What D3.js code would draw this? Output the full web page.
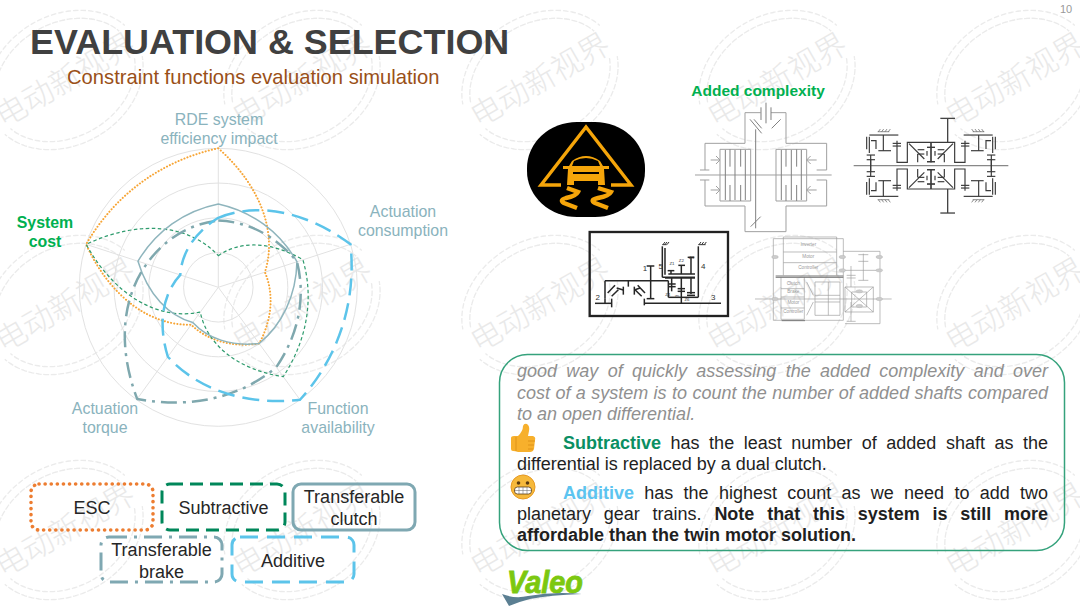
<!DOCTYPE html>
<html>
<head>
<meta charset="utf-8">
<script src="https://cdn.jsdelivr.net/npm/d3@7"></script>
<style>
html, body { margin: 0; padding: 0; background: #fff; }
svg { display: block; font-family: "Liberation Sans", Arial, sans-serif; }
</style>
</head>
<body>
<svg id="slide" width="1080" height="608"></svg>
<script>
// chart values
const axesNames = ["RDE system efficiency impact", "Actuation consumption", "Function availability", "Actuation torque", "System cost"];
const ringTicks = [1, 2, 3, 4];
const esc = [4, 1.41, 2, 1.33, 4];
const subtractive = [0.91, 2.56, 3.18, 0.88, 4];
const transferableClutch = [2.4, 2.38, 2, 1.25, 2.43];
const transferableBrake = [1.92, 2.38, 2.84, 3.97, 2.17];
const additive = [2, 4, 4, 2.47, 1.15];
const seriesNames = ["ESC", "Subtractive", "Transferable clutch", "Transferable brake", "Additive"];

const svg = d3.select("#slide");

// ---- watermark, repeated over the whole slide
const wmX = [65, 302, 540, 777, 1015];
const wmY = [80, 305, 530];
const wmLayer = svg.append("g");
const wmArc = d3.arc().innerRadius(1).outerRadius(1);
wmY.forEach(y => wmX.forEach(x => {
    const g = wmLayer.append("g").attr("transform", `translate(${x},${y}) rotate(-30)`);
    [[82, 65], [74, 57]].forEach(([a, b]) => {
        [[-1.3, 1.3], [1.85, 4.45]].forEach(([s, e]) => {
            g.append("path")
                .attr("d", wmArc({startAngle: s, endAngle: e}))
                .attr("transform", `scale(${a},${b})`)
                .attr("fill", "none").attr("stroke", "#ebebeb").attr("stroke-width", 1.3)
                .attr("vector-effect", "non-scaling-stroke")
                .attr("stroke-dasharray", "4 3.5");
        });
    });
    g.append("text").text("电动新视界")
        .attr("text-anchor", "middle").attr("y", 11)
        .style("font-family", '"Noto Sans CJK SC"').style("font-weight", 300)
        .style("font-size", "31px").attr("fill", "#e9e9e9");
}));

// ---- titles
function label(parent, str, x, y, size, color, opts) {
    opts = opts || {};
    return parent.append("text").text(str).attr("x", x).attr("y", y)
        .attr("text-anchor", opts.anchor || "start")
        .style("font-size", size + "px").style("font-weight", opts.weight || 400)
        .style("font-style", opts.style || "normal").attr("fill", color);
}
label(svg, "EVALUATION & SELECTION", 30, 54, 35.9, "#404040", {weight: 700});
label(svg, "Constraint functions evaluation simulation", 67, 84, 20.2, "#9a5018");
label(svg, "10", 1060, 13, 11, "#999");
label(svg, "Added complexity", 758, 96, 15.5, "#00b050", {weight: 700, anchor: "middle"});

// ---- radar
const cx = 218.3, cy = 287.3;
const r = d3.scaleLinear().domain([0, 4]).range([0, 139]);
const angle = d3.scaleLinear().domain([0, axesNames.length]).range([0, 2 * Math.PI]);
const polar = (a, v) => [cx + r(v) * Math.sin(a), cy - r(v) * Math.cos(a)];

const radar = svg.append("g");
radar.selectAll("circle").data(ringTicks).join("circle")
    .attr("cx", cx).attr("cy", cy).attr("r", d => r(d))
    .attr("fill", "none").attr("stroke", "#e2e2e2").attr("stroke-width", 1);
radar.selectAll("line").data(axesNames).join("line")
    .attr("x1", cx).attr("y1", cy)
    .attr("x2", (d, i) => polar(angle(i), 4)[0])
    .attr("y2", (d, i) => polar(angle(i), 4)[1])
    .attr("stroke", "#e2e2e2").attr("stroke-width", 1);

// segments bend along the polar grid, with a corner kept at every value
function radarPath(values) {
    const p = d3.path(), n = values.length, step = angle(1);
    p.moveTo(...polar(0, values[0]));
    values.forEach((v, i) => {
        const next = values[(i + 1) % n], a = angle(i);
        const c1 = polar(a + step / 3, v + (next - v) / 3);
        const c2 = polar(a + 2 * step / 3, v + 2 * (next - v) / 3);
        const end = polar(a + step, next);
        p.bezierCurveTo(c1[0], c1[1], c2[0], c2[1], end[0], end[1]);
    });
    p.closePath();
    return p.toString();
}
const seriesStyle = [
    {values: esc, color: "#f7a535", width: 2, dash: "0.1 3.1", line: "round"},
    {values: subtractive, color: "#2f9c6e", width: 1.2, dash: "3.5 2.5"},
    {values: transferableClutch, color: "#8fb5bd", width: 1.5, dash: null},
    {values: transferableBrake, color: "#7fa8ae", width: 2.5, dash: "16 6 3 6"},
    {values: additive, color: "#5cc4ea", width: 2.5, dash: "17 8"}
];
radar.selectAll("path.series").data(seriesStyle).join("path")
    .attr("class", "series").attr("d", d => radarPath(d.values))
    .attr("fill", "none").attr("stroke", d => d.color).attr("stroke-width", d => d.width)
    .attr("stroke-dasharray", d => d.dash).attr("stroke-linecap", d => d.line || "butt");

const axisLabelColor = "#8ab3bd";
[["RDE system", 219, 125], ["efficiency impact", 219, 144], ["Actuation", 403, 217], ["consumption", 403, 236],
 ["Function", 338, 414], ["availability", 338, 433], ["Actuation", 105, 414], ["torque", 105, 433]]
    .forEach(d => label(svg, d[0], d[1], d[2], 15.9, axisLabelColor, {anchor: "middle"}));
label(svg, "System", 45, 228, 15.9, "#00b050", {anchor: "middle", weight: 700});
label(svg, "cost", 45, 247, 15.9, "#00b050", {anchor: "middle", weight: 700});

// ---- legend boxes
const legendBoxes = [
    {x: 31, y: 484, w: 122, h: 46, color: "#ed7d31", dash: "0.1 6", cap: "round", width: 3.6, text: ["ESC"]},
    {x: 162, y: 484, w: 123, h: 46, color: "#00875a", dash: "13 7", text: ["Subtractive"]},
    {x: 293, y: 484, w: 122, h: 46, color: "#7fa8b2", dash: null, text: ["Transferable", "clutch"]},
    {x: 101, y: 537, w: 121, h: 45, color: "#7fa8b2", dash: "18 7 3 7", text: ["Transferable", "brake"]},
    {x: 232, y: 537, w: 122, h: 45, color: "#5cc4ea", dash: "18 9", text: ["Additive"]}
];
legendBoxes.forEach(b => {
    svg.append("rect").attr("x", b.x).attr("y", b.y).attr("width", b.w).attr("height", b.h).attr("rx", 8)
        .attr("fill", "none").attr("stroke", b.color).attr("stroke-width", b.width || 3)
        .attr("stroke-dasharray", b.dash).attr("stroke-linecap", b.cap || "butt");
    const mid = b.y + b.h / 2;
    b.text.forEach((t, i) => {
        const y = b.text.length === 1 ? mid + 7 : mid - 4 + i * 22;
        label(svg, t, b.x + b.w / 2, y, 18, "#262626", {anchor: "middle"});
    });
});

// ---- helper for the little schematics: polylines in crop pixels
function lines(parent, list, color, width) {
    list.forEach(pts => parent.append("path")
        .attr("d", d3.line()(pts)).attr("fill", "none")
        .attr("stroke", color).attr("stroke-width", width));
}

// ---- warning icon
const icon = svg.append("g");
icon.append("rect").attr("x", 527).attr("y", 122).attr("width", 118).attr("height", 95)
    .attr("rx", 50).attr("ry", 46).attr("fill", "#000");
const amber = "#f5a50a";
icon.append("path").attr("d", "M561,185 L541,185 L586,127 L631,185 L611,185")
    .attr("fill", "none").attr("stroke", amber).attr("stroke-width", 3.4).attr("stroke-linejoin", "miter");
icon.append("path").attr("fill", amber).attr("fill-rule", "evenodd")
    .attr("d", "M572,161 Q586,151 600,161 L603,166 L609,166 L609,169 L604,169 L605,185 L598,185 L598,181 L574,181 L574,185 L567,185 L568,169 L563,169 L563,166 L569,166 Z M574,161 Q586,155 598,161 L600,166 L572,166 Z M573,172 L599,172 L599,174 L573,174 Z");
icon.append("path").attr("fill", "none").attr("stroke", amber).attr("stroke-width", 4.4)
    .attr("d", "M567,188 L578,192 Q576,196 566,198 Q559,200 564,203 L577,208 M598,188 L611,192 Q609,196 598,198 Q589,200 595,203 L608,208");

// ---- clutch schematic (grey), crop origin 690,100
const clutch = svg.append("g").attr("transform", "translate(690,100) scale(0.3333)");
lines(clutch, [
    [[165, 130], [165, 38], [212, 38]], [[243, 38], [288, 38], [288, 130], [410, 130], [410, 210]], [[165, 130], [45, 130], [45, 210]],
    [[30, 210], [58, 210]], [[30, 240], [58, 240]], [[380, 210], [410, 210]], [[380, 240], [410, 240]],
    [[45, 240], [45, 318], [165, 318], [165, 395], [288, 395], [288, 318], [410, 318], [410, 240]],
    [[15, 225], [425, 225]],
    [[90, 148], [182, 148]], [[90, 303], [182, 303]], [[90, 148], [90, 303]], [[258, 148], [350, 148]], [[258, 303], [350, 303]], [[350, 148], [350, 303]], [[258, 148], [258, 303]], [[182, 148], [182, 303]],
    [[62, 180], [90, 180]], [[62, 270], [90, 270]], [[78, 168], [90, 180], [78, 192]], [[78, 258], [90, 270], [78, 282]],
    [[380, 180], [350, 180]], [[380, 270], [350, 270]], [[362, 168], [350, 180], [362, 192]], [[362, 258], [350, 270], [362, 282]]
], "#a0a0a0", 3);
lines(clutch, [
    [[213, 22], [213, 60]], [[243, 22], [243, 60]], [[228, 8], [228, 70]], [[180, 58], [215, 100]], [[192, 58], [215, 85]], [[245, 85], [272, 58]],
    [[197, 88], [197, 385]], [[182, 380], [212, 350]],
    [[106, 150], [106, 300]], [[120, 148], [120, 200]], [[120, 255], [120, 303]], [[135, 150], [135, 300]], [[152, 148], [152, 200]], [[152, 255], [152, 303]], [[166, 150], [166, 300]],
    [[274, 150], [274, 300]], [[288, 148], [288, 200]], [[288, 255], [288, 303]], [[304, 150], [304, 300]], [[320, 148], [320, 200]], [[320, 255], [320, 303]], [[334, 150], [334, 300]]
], "#808080", 3);

// ---- planetary schematic: one quadrant mirrored, crop origin 850,110
const planet = svg.append("g").attr("transform", "translate(931,165.7) scale(0.3333)");
lines(planet, [[[-232, 0], [232, 0]]], "#888", 3.5);
lines(planet, [[[50, -70], [50, -142]], [[28, -142], [72, -142]], [[50, 70], [50, 142]], [[28, 142], [72, 142]]], "#444", 4);
[[1, 1], [-1, 1], [1, -1], [-1, -1]].forEach(m => {
    const q = planet.append("g").attr("transform", `scale(${m[0]},${m[1]})`);
    lines(q, [
        [[0, -70], [-71, -70], [-71, -10], [-102, -10], [-102, -75]], [[-115, -67], [-90, -67]], [[-115, -59], [-90, -59]],
        [[-40, -35], [-40, -10]], [[-40, -35], [-20, -35]],
        [[-66, -66], [-20, -20]], [[-40, -48], [-20, -48]],
        [[0, -70], [0, -10]], [[-12, -55], [12, -55]], [[-12, -12], [12, -12]], [[-12, -44], [-12, -30]],
        [[-181, -32], [-181, 18]], [[-193, -32], [-168, -32]], [[-193, 18], [-168, 18]],
        [[-193, -87], [-193, -49]], [[-185, -87], [-185, -38]], [[-185, -92], [-98, -92]],
        [[-180, -75], [-165, -75], [-165, -50]],
        [[-143, -92], [-143, -45]], [[-158, -45], [-120, -45]]
    ], "#3a3a3a", 3.5);
    lines(q, [[[-160, -102], [-125, -102]], [[-158, -102], [-152, -110]], [[-148, -102], [-142, -110]], [[-138, -102], [-132, -110]], [[-128, -102], [-122, -110]]], "#555", 2);
});

// ---- framed gear schematic, crop origin 585,228
const gearBox = svg.append("g").attr("transform", "translate(585,228) scale(0.3333)");
gearBox.append("rect").attr("x", 14).attr("y", 12).attr("width", 415).attr("height", 252)
    .attr("fill", "none").attr("stroke", "#222").attr("stroke-width", 7);
lines(gearBox, [
    [[30, 226], [80, 226]], [[180, 226], [408, 226]], [[60, 212], [60, 226]], [[178, 212], [178, 232]], [[80, 212], [80, 238]],
    [[60, 158], [60, 212]], [[60, 158], [250, 158]], [[250, 158], [250, 208]], [[250, 208], [340, 208]], [[340, 208], [340, 55]],
    [[197, 114], [197, 212]], [[185, 114], [208, 114]], [[185, 212], [208, 212]],
    [[130, 158], [130, 176]], [[115, 176], [115, 200]], [[148, 176], [148, 200]],
    [[68, 195], [90, 172]], [[80, 205], [100, 185]], [[158, 172], [180, 195]], [[150, 185], [170, 205]], [[95, 180], [115, 186]], [[148, 186], [165, 180]],
    [[232, 55], [232, 148]], [[232, 148], [330, 148]], [[240, 150], [330, 150]],
    [[240, 60], [240, 140]], [[250, 138], [330, 138]],
    [[258, 128], [258, 138]], [[248, 128], [268, 128]], [[289, 112], [289, 138]], [[280, 112], [300, 112]], [[318, 88], [318, 138]], [[308, 88], [328, 88]],
    [[260, 150], [260, 190]], [[250, 168], [272, 168]], [[250, 176], [272, 176]], [[289, 150], [289, 226]], [[278, 182], [300, 182]], [[278, 190], [300, 190]], [[318, 150], [318, 198]], [[306, 194], [330, 194]], [[306, 202], [330, 202]]
], "#262626", 4.5);
lines(gearBox, [[[232, 50], [245, 50]], [[234, 50], [240, 42]], [[240, 50], [246, 42]], [[246, 50], [252, 42]], [[340, 50], [362, 50]], [[342, 50], [348, 42]], [[350, 50], [356, 42]], [[358, 50], [364, 42]]], "#333", 3);
[["1", 180, 130, 24], ["2", 38, 217, 24], ["3", 385, 215, 24], ["4", 355, 124, 24], ["5", 227, 124, 24],
 ["Z1", 261, 112, 13], ["Z2", 289, 102, 13], ["Z3", 320, 94, 13], ["Z4", 248, 204, 13], ["Z5", 276, 210, 13], ["Z6", 306, 220, 13]]
    .forEach(d => label(gearBox, d[0], d[1], d[2], d[3], "#333", {anchor: "middle"}));

// ---- torque vectoring block diagram (faint), crop origin 745,232
const block = svg.append("g").attr("transform", "translate(745,232) scale(0.3333)");
lines(block, [
    [[85, 20], [295, 20], [295, 265], [85, 265], [85, 20]],
    [[115, 15], [115, 130]], [[275, 15], [275, 130]], [[115, 15], [275, 15]], [[115, 60], [275, 60]], [[115, 92], [275, 92]],
    [[295, 58], [405, 58], [405, 275], [300, 275]], [[295, 115], [405, 115]], [[30, 201], [440, 201]],
    [[355, 65], [355, 145]], [[340, 68], [370, 68]], [[340, 88], [370, 88]], [[340, 145], [370, 145]],
    [[318, 102], [318, 165]], [[305, 130], [332, 130]], [[305, 138], [332, 138]], [[318, 210], [318, 268]], [[305, 268], [332, 268]],
    [[108, 135], [108, 262]], [[178, 135], [178, 262]], [[108, 170], [178, 170]], [[108, 195], [178, 195]], [[108, 228], [178, 228]], [[108, 262], [178, 262]],
    [[300, 165], [385, 165], [385, 240], [300, 240], [300, 165]], [[300, 165], [385, 240]], [[385, 165], [300, 240]], [[320, 180], [365, 180], [365, 225], [320, 225], [320, 180]],
    [[210, 150], [285, 150]], [[210, 190], [285, 190]], [[210, 210], [285, 210]], [[210, 250], [285, 250]], [[210, 150], [210, 250]], [[285, 150], [285, 250]],
    [[250, 150], [250, 250]], [[185, 150], [205, 190]], [[185, 250], [205, 210]]
], "#9c9c9c", 2);
lines(block, [[[92, 132], [295, 132]], [[92, 136], [295, 136]], [[110, 266], [180, 266]]], "#777", 3);
[[90, 75], [90, 201], [292, 75], [292, 115], [403, 75], [403, 115], [403, 201], [343, 178], [343, 222]].forEach(d => {
    block.append("ellipse").attr("cx", d[0]).attr("cy", d[1]).attr("rx", 10).attr("ry", 5)
        .attr("fill", "#ccc").attr("stroke", "#aaa");
});
[["Inverter", 190, 42], ["Motor", 190, 77], ["Controller", 190, 110], ["Clutch", 145, 158], ["Brake", 145, 184], ["Motor", 145, 215], ["Controller", 145, 244]]
    .forEach(d => label(block, d[0], d[1], d[2], 14, "#999", {anchor: "middle"}));

// ---- text panel
svg.append("rect").attr("x", 499.5).attr("y", 354.5).attr("width", 565).attr("height", 196).attr("rx", 28)
    .attr("fill", "none").attr("stroke", "#35a27c").attr("stroke-width", 1.5);

const black = "#1f1f1f", grey = "#909090";
const b = 700;
const panelLines = [
    {y: 376.5, x: 517, fit: true, runs: [["good way of quickly assessing the added complexity and over", grey, 400, "italic"]]},
    {y: 398.5, x: 517, fit: true, runs: [["cost of a system is to count the number of added shafts compared", grey, 400, "italic"]]},
    {y: 419.5, x: 517, runs: [["to an open differential.", grey, 400, "italic"]]},
    {y: 448.5, x: 563, fit: true, runs: [["Subtractive", "#0a8f63", b], [" has the least number of added shaft as the", black, 400]]},
    {y: 470, x: 517, runs: [["differential is replaced by a dual clutch.", black, 400]]},
    {y: 498.5, x: 563, fit: true, runs: [["Additive", "#5cc4f0", b], [" has the highest count as we need to add two", black, 400]]},
    {y: 520, x: 517, fit: true, runs: [["planetary gear trains. ", black, 400], ["Note that this system is still more", black, b]]},
    {y: 541, x: 517, runs: [["affordable than the twin motor solution.", black, b]]}
];
panelLines.forEach(l => {
    const t = svg.append("text").attr("x", l.x).attr("y", l.y).style("font-size", "18px").style("white-space", "pre");
    l.runs.forEach(run => t.append("tspan").text(run[0]).attr("fill", run[1])
        .style("font-weight", run[2]).style("font-style", run[3] || "normal"));
    if (l.fit) {
        const spaces = l.runs.map(run => run[0]).join("").split(" ").length - 1;
        const extra = (1048 - l.x - t.node().getComputedTextLength()) / spaces;
        t.style("word-spacing", extra + "px");
    }
});

// ---- thumb and grimace
const thumb = svg.append("g");
thumb.append("path").attr("fill", "#f7b02c")
    .attr("d", "M511,438 Q511,436 514,436 L518,436 Q523,431 523,426 Q524,423 527,424 Q530,426 529,431 L528,436 L533,436 Q536,437 535,440 L534,449 Q533,452 530,452 L518,452 Q515,451 513,451 Q511,451 511,449 Z");
thumb.append("path").attr("fill", "none").attr("stroke", "#d98e14").attr("stroke-width", 0.8)
    .attr("d", "M528,441 L535,441 M528,445 L534,445 M528,449 L533,449 M516,437 L516,451");
const face = svg.append("g").attr("transform", "translate(523,487)");
face.append("circle").attr("r", 12).attr("fill", "#f6b93b").attr("stroke", "#e79a24");
face.append("circle").attr("cx", -4.5).attr("cy", -4).attr("r", 1.8).attr("fill", "#5a3a10");
face.append("circle").attr("cx", 4.5).attr("cy", -4).attr("r", 1.8).attr("fill", "#5a3a10");
face.append("rect").attr("x", -8.5).attr("y", 0).attr("width", 17).attr("height", 7).attr("rx", 3)
    .attr("fill", "#fff").attr("stroke", "#5a3a10").attr("stroke-width", 0.8);
face.append("path").attr("stroke", "#777").attr("stroke-width", 0.6).attr("fill", "none")
    .attr("d", "M-8,3.5 H8 M-4,0 V7 M0,0 V7 M4,0 V7");

// ---- logo
label(svg, "Valeo", 507, 593, 32, "#7cc810", {weight: 700, style: "italic"})
    .attr("textLength", 76).attr("lengthAdjust", "spacingAndGlyphs")
    .attr("stroke", "#7cc810").attr("stroke-width", 0.9);
svg.append("path").attr("fill", "#5b7f92")
    .attr("d", "M502,594 Q515,599 528,596 Q555,591 582,594 Q550,595 530,599 Q518,602 509,606 Z");
</script>
</body>
</html>
